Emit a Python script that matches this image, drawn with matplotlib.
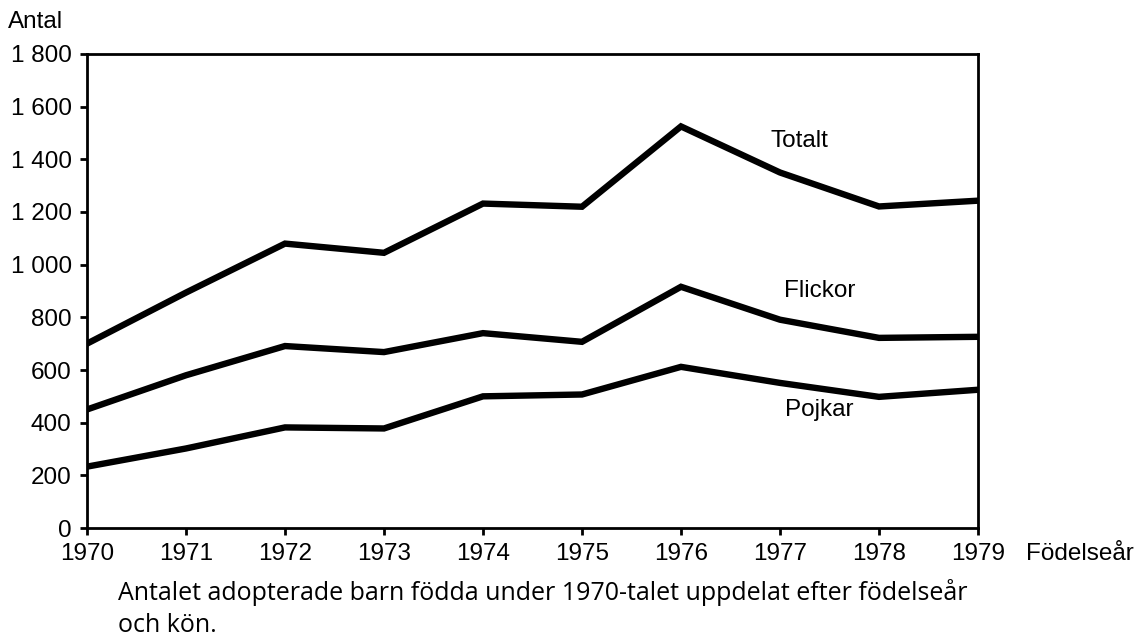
import matplotlib
matplotlib.use('Agg')
import matplotlib.pyplot as plt

years = [1970, 1971, 1972, 1973, 1974, 1975, 1976, 1977, 1978, 1979]
totalt = [700, 894, 1080, 1045, 1232, 1220, 1525, 1350, 1221, 1243]
flickor = [450, 580, 691, 668, 740, 707, 916, 791, 722, 726]
pojkar = [233, 302, 382, 378, 500, 507, 612, 551, 498, 525]

series_labels = ['Totalt', 'Flickor', 'Pojkar']
label_pos = [(1977.2, 1470), (1977.4, 900), (1977.4, 450)]

yticks = [0, 200, 400, 600, 800, 1000, 1200, 1400, 1600, 1800]
ytick_labels = ['0', '200', '400', '600', '800', '1 000', '1 200', '1 400', '1 600', '1 800']

plt.rcParams['font.family'] = ['Liberation Sans', 'DejaVu Sans']

fig = plt.figure(figsize=(11.46, 6.39), dpi=100)
ax = fig.add_axes([0.0759, 0.1737, 0.7775, 0.7418])

for vals in [totalt, flickor, pojkar]:
    ax.plot(years, vals, color='black', lw=4.6, solid_joinstyle='miter')

for lab, (x, y) in zip(series_labels, label_pos):
    ax.text(x, y, lab, fontsize=17.5, ha='center', va='center')

ax.set_xlim(1970, 1979)
ax.set_ylim(0, 1800)
ax.set_xticks(years)
ax.set_xticklabels([str(y) for y in years])
ax.set_yticks(yticks)
ax.set_yticklabels(ytick_labels)
ax.tick_params(axis='both', labelsize=17.5, width=2, length=5, direction='out')
ax.tick_params(axis='x', pad=6)
ax.tick_params(axis='y', pad=6)
for sp in ax.spines.values():
    sp.set_linewidth(2)

fig.text(8 / 1146, 1 - 22 / 639, 'Antal', fontsize=17.5, ha='left', va='center')
fig.text(1026 / 1146, 1 - 554 / 639, 'Födelseår', fontsize=17.5, ha='left', va='center')

fig.text(118 / 1146, 1 - 593 / 639,
         'Antalet adopterade barn födda under 1970-talet uppdelat efter födelseår',
         fontsize=18, family=['Open Sans', 'DejaVu Sans'], ha='left', va='center')
fig.text(118 / 1146, 1 - 626 / 639, 'och kön.',
         fontsize=18, family=['Open Sans', 'DejaVu Sans'], ha='left', va='center')

fig.savefig('out.png', dpi=100)
